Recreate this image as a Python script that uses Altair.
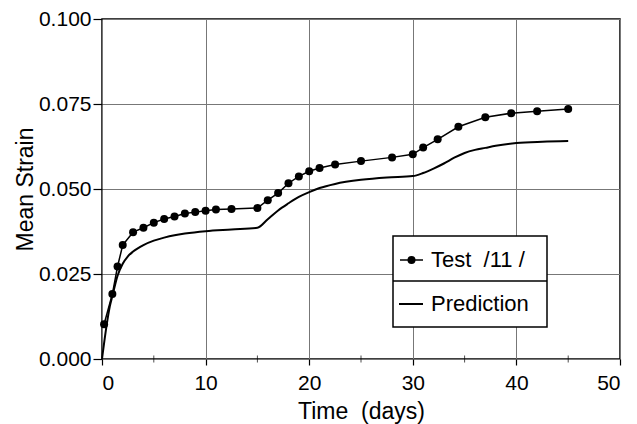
import altair as alt
import pandas as pd

# Test data /11/ (days, mean strain)
test_t = [0.2, 1, 1.5, 2, 3, 4, 5, 6, 7, 8, 9, 10, 11, 12.5, 15, 16, 17, 18, 19,
          20, 21, 22.5, 25, 28, 30, 31, 32.4, 34.4, 37, 39.5, 42, 45]
test_y = [0.0102, 0.0191, 0.0272, 0.0335, 0.0373, 0.0386, 0.0401, 0.0412, 0.0419,
          0.0428, 0.0432, 0.0436, 0.0440, 0.0441, 0.0444, 0.0467, 0.0488, 0.0517,
          0.0537, 0.0552, 0.0562, 0.0572, 0.0582, 0.0593, 0.0602, 0.0622, 0.0646,
          0.0683, 0.0711, 0.0723, 0.0729, 0.0735]

# Prediction curve
pred_t = [0, 0.5, 0.75, 1, 1.5, 2, 2.5, 3, 4, 5, 6, 7, 8, 10, 12.5, 15, 16, 17, 18,
          19, 20, 21, 22.5, 25, 27.5, 30, 31, 32, 33, 34, 35, 36, 37, 38, 40, 42.5, 45]
pred_y = [0.0, 0.0110, 0.0154, 0.0185, 0.0245, 0.0280, 0.0302, 0.0316, 0.0335,
          0.0348, 0.0357, 0.0364, 0.0369, 0.0376, 0.0381, 0.0386, 0.0411, 0.0437,
          0.0458, 0.0477, 0.0491, 0.0503, 0.0515, 0.0527, 0.0534, 0.0538, 0.0547,
          0.0560, 0.0575, 0.0592, 0.0606, 0.0615, 0.0621, 0.0627, 0.0635, 0.0639,
          0.0641]

x_ticks = [0, 10, 20, 30, 40, 50]
x_minor = [5, 15, 25, 35, 45]
y_ticks = [0.0, 0.025, 0.050, 0.075, 0.100]
legend_labels = ["Test\u00a0 /11\u00a0/", "Prediction"]

FONT = "Liberation Sans"

test_df = pd.DataFrame({"t": test_t, "y": test_y})
pred_df = pd.DataFrame({"t": pred_t, "y": pred_y})
minor_df = pd.DataFrame({"t": x_minor, "y": [0.0] * len(x_minor)})

xs = alt.Scale(domain=[0, 50], nice=False, zero=False)
ys = alt.Scale(domain=[0, 0.1], nice=False)

x_axis = alt.Axis(values=x_ticks, title="Time\u00a0 (days)", format="d",
                  grid=True, gridColor="#777", gridWidth=1,
                  tickColor="black", tickSize=6, tickWidth=1.2,
                  labelFont=FONT, labelFontSize=21, labelColor="black",
                  labelPadding=7, titleFont=FONT, titleFontSize=23,
                  titleFontWeight="normal", titleColor="black",
                  titleY=59, titleBaseline="alphabetic", domain=False)
y_axis = alt.Axis(values=y_ticks, title="Mean Strain", format=".3f",
                  grid=True, gridColor="#777", gridWidth=1,
                  tickColor="black", tickSize=9, tickWidth=1.2,
                  labelFont=FONT, labelFontSize=21, labelColor="black",
                  labelPadding=2, titleFont=FONT, titleFontSize=23,
                  titleFontWeight="normal", titleColor="black",
                  titleX=-77, titleBaseline="middle", domain=False)

pred_line = alt.Chart(pred_df).mark_line(color="black", strokeWidth=2,
                                         interpolate="monotone").encode(
    x=alt.X("t:Q", scale=xs, axis=x_axis),
    y=alt.Y("y:Q", scale=ys, axis=y_axis),
)
test_line = alt.Chart(test_df).mark_line(color="black", strokeWidth=1.5).encode(
    x=alt.X("t:Q", scale=xs), y=alt.Y("y:Q", scale=ys))
test_pts = alt.Chart(test_df).mark_circle(color="black", size=64, opacity=1).encode(
    x=alt.X("t:Q", scale=xs), y=alt.Y("y:Q", scale=ys))
minor = alt.Chart(minor_df).mark_tick(color="black", size=7, thickness=1,
                                      orient="vertical").encode(
    x=alt.X("t:Q", scale=xs), y=alt.Y("y:Q", scale=ys))

# Legend box (decoration)
one = pd.DataFrame({"k": [0]})
box = alt.Chart(one).mark_rect(fill="white", stroke="black", strokeWidth=1.5).encode(
    x=alt.value(291), x2=alt.value(445), y=alt.value(217), y2=alt.value(308))
divider = alt.Chart(one).mark_rule(color="black", strokeWidth=1.5).encode(
    x=alt.value(291), x2=alt.value(445), y=alt.value(262))
leg_line1 = alt.Chart(one).mark_rule(color="black", strokeWidth=1.5).encode(
    x=alt.value(298), x2=alt.value(321), y=alt.value(241))
leg_dot = alt.Chart(one).mark_circle(color="black", size=64, opacity=1).encode(
    x=alt.value(309.5), y=alt.value(241))
leg_line2 = alt.Chart(one).mark_rule(color="black", strokeWidth=2).encode(
    x=alt.value(297), x2=alt.value(321), y=alt.value(285))
leg_text1 = alt.Chart(one).mark_text(text=legend_labels[0], font=FONT, fontSize=22,
                                     align="left", baseline="middle", color="black").encode(
    x=alt.value(329), y=alt.value(241))
leg_text2 = alt.Chart(one).mark_text(text=legend_labels[1], font=FONT, fontSize=22,
                                     align="left", baseline="middle", color="black").encode(
    x=alt.value(329), y=alt.value(285))

chart = alt.layer(
    pred_line, test_line, test_pts, minor,
    box, divider, leg_line1, leg_dot, leg_line2, leg_text1, leg_text2
).properties(
    width=518, height=340,
    autosize=alt.AutoSizeParams(type="none"),
    padding={"left": 102, "top": 19, "right": 17, "bottom": 65},
    background="white",
).configure_view(stroke="black", strokeWidth=1.5)

chart.save("out.html", embed_options={"renderer": "svg", "actions": False})
